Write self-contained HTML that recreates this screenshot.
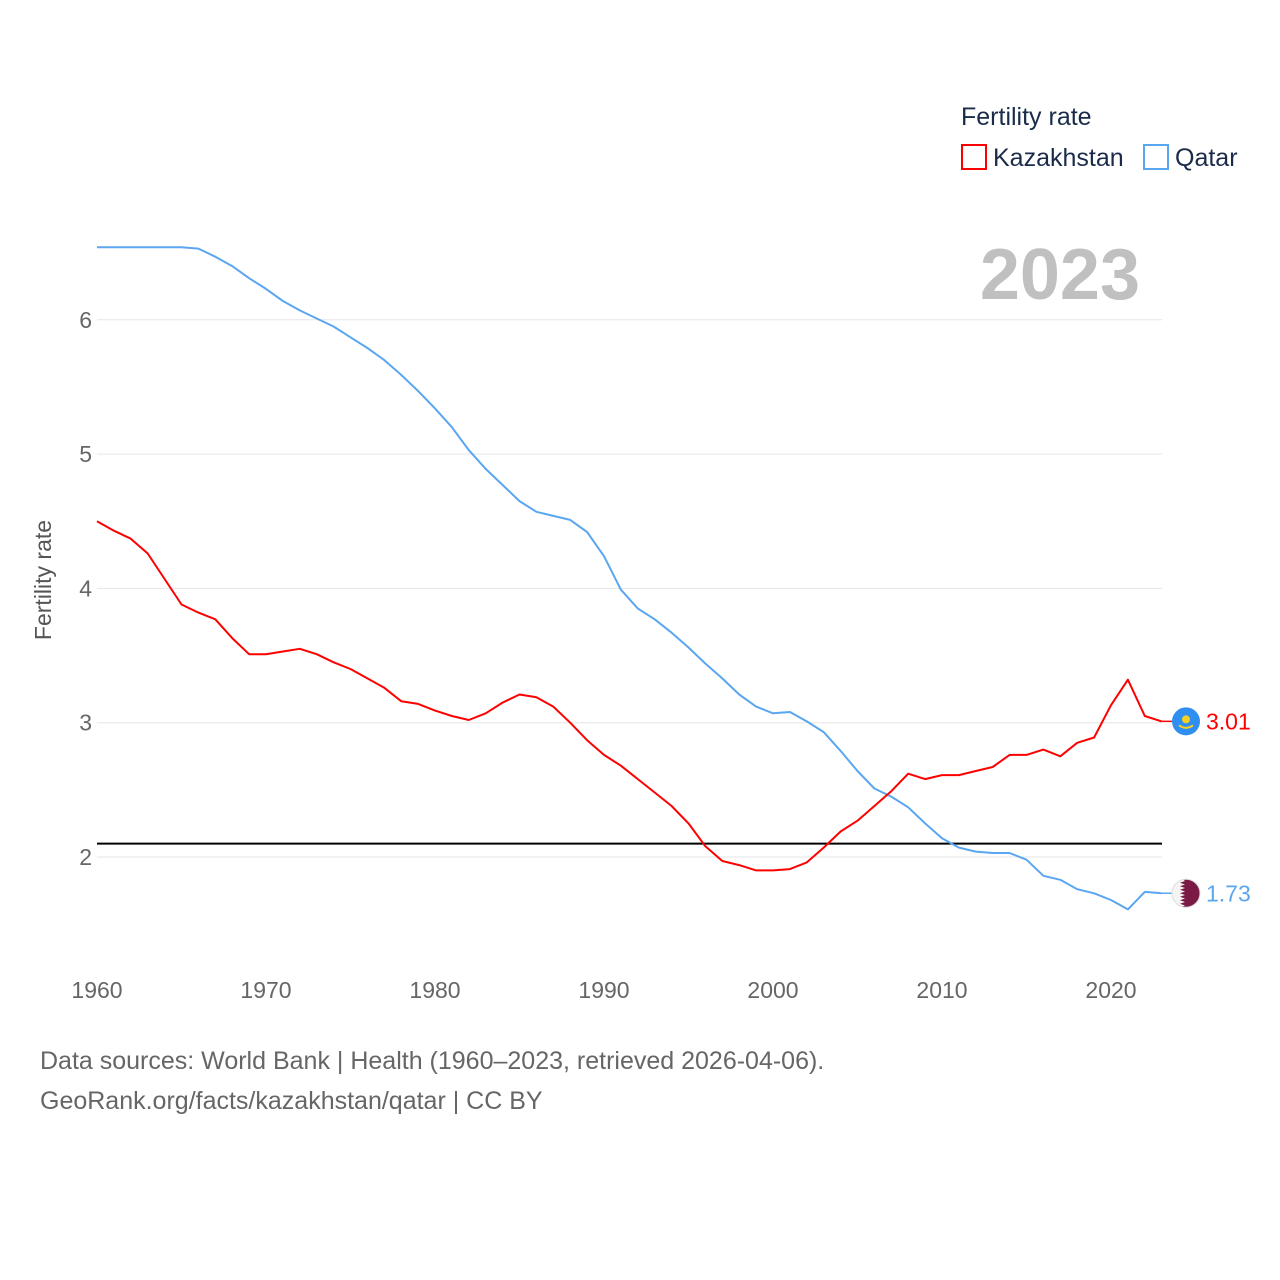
<!DOCTYPE html>
<html><head><meta charset="utf-8"><style>
body{margin:0;background:#fff;}
svg{display:block;font-family:"Liberation Sans",sans-serif;}
</style></head><body>
<svg id="chart" width="1280" height="1280">
<rect width="1280" height="1280" fill="#fff"/>
<text x="961" y="125" font-size="25" fill="#1a2b4a">Fertility rate</text>
<g><rect x="962" y="145" width="24" height="24" fill="none" stroke="#ff0000" stroke-width="2"/><text x="993" y="166" font-size="25" fill="#1a2b4a">Kazakhstan</text></g>
<g><rect x="1144" y="145" width="24" height="24" fill="none" stroke="#5ba6f0" stroke-width="2"/><text x="1175" y="166" font-size="25" fill="#1a2b4a">Qatar</text></g>
<text x="1140" y="299" font-size="72" font-weight="bold" fill="#c0c0c0" text-anchor="end">2023</text>
<text transform="translate(51,580) rotate(-90)" font-size="23" fill="#555" text-anchor="middle">Fertility rate</text>
<defs><clipPath id="qaclip"><circle id="qacirc" cx="1186" cy="0" r="14"/></clipPath></defs>
<g id="grid"></g><g id="series"></g><g id="labels"></g>
<text x="40" y="1069" font-size="25" fill="#666">Data sources: World Bank | Health (1960–2023, retrieved 2026-04-06).</text>
<text x="40" y="1109" font-size="25" fill="#666">GeoRank.org/facts/kazakhstan/qatar | CC BY</text>
</svg>
<script>
const years=[];for(let y=1960;y<=2023;y++)years.push(y);
const kazakhstan=[4.50,4.43,4.37,4.26,4.07,3.88,3.82,3.77,3.63,3.51,3.51,3.53,3.55,3.51,3.45,3.40,3.33,3.26,3.16,3.14,3.09,3.05,3.02,3.07,3.15,3.21,3.19,3.12,3.00,2.87,2.76,2.68,2.58,2.48,2.38,2.25,2.08,1.97,1.94,1.90,1.90,1.91,1.96,2.07,2.19,2.27,2.38,2.49,2.62,2.58,2.61,2.61,2.64,2.67,2.76,2.76,2.80,2.75,2.85,2.89,3.13,3.32,3.05,3.01];
const qatar=[6.54,6.54,6.54,6.54,6.54,6.54,6.53,6.47,6.40,6.31,6.23,6.14,6.07,6.01,5.95,5.87,5.79,5.70,5.59,5.47,5.34,5.20,5.03,4.89,4.77,4.65,4.57,4.54,4.51,4.42,4.24,3.99,3.85,3.77,3.67,3.56,3.44,3.33,3.21,3.12,3.07,3.08,3.01,2.93,2.79,2.64,2.51,2.45,2.37,2.25,2.14,2.07,2.04,2.03,2.03,1.98,1.86,1.83,1.76,1.73,1.68,1.61,1.74,1.73];
const yTicks=[2,3,4,5,6];
const xTicks=[1960,1970,1980,1990,2000,2010,2020];
const replacement=2.1;
const X=y=>97+(y-1960)*16.9;
const Y=v=>857-(v-2)*134.3;
const NS="http://www.w3.org/2000/svg";
function mk(tag,attrs,parent,text){const e=document.createElementNS(NS,tag);for(const k in attrs)e.setAttribute(k,attrs[k]);if(text!==undefined)e.textContent=text;parent.appendChild(e);return e;}
const grid=document.getElementById('grid'),series=document.getElementById('series'),labels=document.getElementById('labels');
yTicks.forEach(t=>{
 const l=mk('line',{x1:97,x2:1162,y1:Y(t),y2:Y(t),stroke:'#e6e6e6','stroke-width':1},grid);
 
 
 const tx=mk('text',{x:92,y:Y(t)+8,'font-size':23,fill:'#666','text-anchor':'end'},grid,String(t));
 
 
});
xTicks.forEach(t=>{
 const tx=mk('text',{x:X(t),y:998,'font-size':23,fill:'#666','text-anchor':'middle'},grid,String(t));
 
 
});
const ref=mk('line',{x1:97,x2:1162,y1:Y(replacement),y2:Y(replacement),stroke:'#000','stroke-width':2},series);


function line(vals,color,name){
 const d=vals.map((v,i)=>(i?'L':'M')+X(years[i]).toFixed(1)+','+Y(v).toFixed(1)).join('');
 const p=mk('path',{d:d,fill:'none',stroke:color,'stroke-width':2,'stroke-linejoin':'round'},series);
 
 
}
line(qatar,'#5ba6f0','qatar-line');
line(kazakhstan,'#ff0000','kazakhstan-line');
function endLabel(vals,color,name,flag){
 const v=vals[vals.length-1],y=Y(v),x=X(years[years.length-1]);
 const c=mk('line',{x1:x,x2:1172,y1:y,y2:y,stroke:color,'stroke-width':1.5},labels);
 
 
 const g=mk('g',{},labels);
 
 
 if(flag==='kz'){
  mk('circle',{cx:1186,cy:y,r:14,fill:'#2f8ff0'},g);
  mk('circle',{cx:1186,cy:y-2,r:4,fill:'#f5d020'},g);
  mk('path',{d:`M1179,${y+4}Q1186,${y+9} 1193,${y+4}`,stroke:'#f5d020','stroke-width':2,fill:'none'},g);
 }else{
  document.getElementById('qacirc').setAttribute('cy',y);
  const cg=mk('g',{'clip-path':'url(#qaclip)'},g);
  mk('rect',{x:1170,y:y-16,width:32,height:32,fill:'#7a1a45'},cg);
  let pts=`1170,${y-16} 1180,${y-16}`;
  for(let i=0;i<9;i++){const yy=y-14+i*3.5;pts+=` 1185,${(yy+1.75).toFixed(1)} 1180,${(yy+3.5).toFixed(1)}`;}
  pts+=` 1180,${y+16} 1170,${y+16}`;
  mk('polygon',{points:pts,fill:'#f4f4f4'},cg);
  mk('circle',{cx:1186,cy:y,r:14,fill:'none',stroke:'#dddddd','stroke-width':1},g);
 }
 const t=mk('text',{x:1206,y:y+8,'font-size':23,fill:color},labels,v.toFixed(2));
 
 
}
endLabel(kazakhstan,'#ff0000','kazakhstan','kz');
endLabel(qatar,'#5ba6f0','qatar','qa');
</script>
</body></html>
